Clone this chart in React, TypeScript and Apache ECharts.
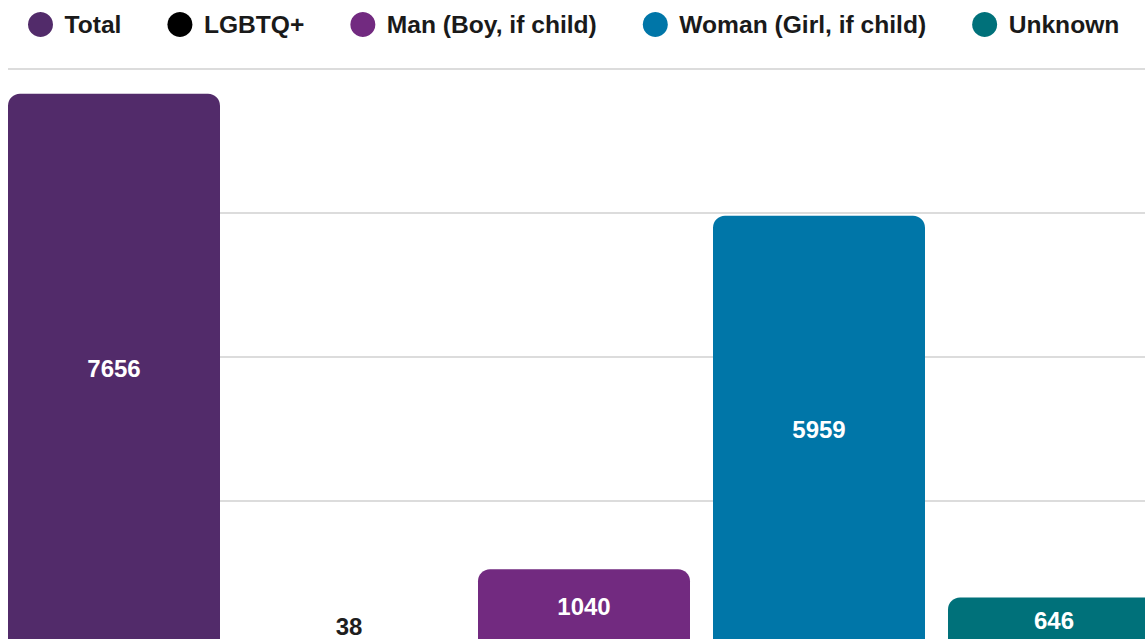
import React, { useEffect, useRef } from "react";
import * as echarts from "echarts";

const categories = ["Gender"];
const seriesNames = ["Total", "LGBTQ+", "Man (Boy, if child)", "Woman (Girl, if child)", "Unknown"];
const seriesValues = [7656, 38, 1040, 5959, 646];
const seriesColors = ["#522b6a", "#000000", "#722a80", "#0076a8", "#00717a"];
const yTicks = [0, 2000, 4000, 6000, 8000];

const FONT = "'Liberation Sans', Arial, sans-serif";

export default function App() {
  const ref = useRef<HTMLDivElement>(null);
  useEffect(() => {
    if (!ref.current) return;
    const chart = echarts.init(ref.current, null, { renderer: "svg" });
    const series = seriesNames.map((name, i) => {
      const small = seriesValues[i] < 300;
      return {
        name,
        type: "bar",
        data: [seriesValues[i]],
        barWidth: 212,
        barGap: "10.85%",
        itemStyle: { color: seriesColors[i], borderRadius: [12, 12, 0, 0] },
        label: {
          show: true,
          position: small ? "top" : "inside",
          distance: 3,
          color: small ? "#1e1e1e" : "#ffffff",
          fontSize: 24,
          fontWeight: "bold",
          fontFamily: FONT,
        },
      };
    });
    chart.setOption({
      animation: false,
      backgroundColor: "#ffffff",
      legend: {
        left: 23,
        top: 7,
        icon: "circle",
        itemWidth: 38,
        itemHeight: 25,
        itemGap: 46,
        data: seriesNames,
        textStyle: { fontSize: 24.6, fontWeight: "bold", color: "#1a1a1a", fontFamily: FONT },
      },
      grid: { left: 8, top: 69, width: 1152, bottom: 56, containLabel: false },
      xAxis: {
        type: "category",
        data: categories,
        axisLine: { show: false },
        axisTick: { show: false },
        axisLabel: { show: false },
      },
      yAxis: {
        type: "value",
        min: yTicks[0],
        max: yTicks[yTicks.length - 1],
        interval: yTicks[1] - yTicks[0],
        axisLine: { show: false },
        axisTick: { show: false },
        axisLabel: { show: false },
        splitLine: { show: true, lineStyle: { color: "#dcdcdc", width: 2 } },
      },
      series,
    });
    return () => chart.dispose();
  }, []);
  return (
    <div style={{ position: "fixed", left: 0, top: 0, width: 1145, height: 639, overflow: "hidden", background: "#fff" }}>
      <div ref={ref} style={{ width: 1200, height: 700 }} />
    </div>
  );
}
